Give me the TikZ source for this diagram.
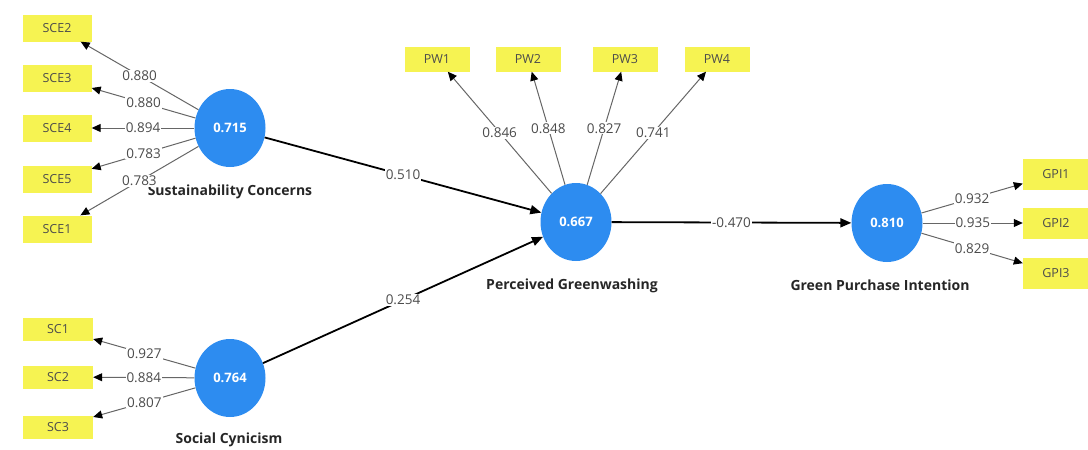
\documentclass[tikz,border=0pt]{standalone}
\usepackage{fontspec}
\setmainfont{Open Sans}
\usetikzlibrary{positioning,arrows.meta,shapes.geometric}
\definecolor{latent}{RGB}{45,140,240}
\definecolor{indic}{RGB}{246,243,82}
\definecolor{loadtxt}{RGB}{75,75,75}

\begin{document}
\begin{tikzpicture}[x=1pt,y=-1pt,
  lv/.style={ellipse,fill=latent,minimum width=71pt,minimum height=78pt,inner sep=0pt,
    text=white,font=\bfseries\fontsize{13}{15}\selectfont},
  lvname/.style={font=\bfseries\fontsize{14}{16}\selectfont,text=black!85},
  indbox/.style={fill=indic,inner sep=0pt,text=black!70,font=\fontsize{12.5}{14}\selectfont},
  load/.style={draw=black!60,line width=1pt,-{Triangle[length=9pt,width=8pt,color=black]}},
  loadlbl/.style={fill=white,inner sep=1pt,text=loadtxt,font=\fontsize{13.5}{15}\selectfont},
  coef/.style={draw=black,line width=1.8pt,-{Triangle[length=11pt,width=9pt]}}]
\useasboundingbox (0,0) rectangle (1088,450);
% Latent variables
\node[lv] (sce) at (230,128) {0.715};
\node[lv] (sc) at (230,378) {0.764};
\node[lv] (pw) at (576,222) {0.667};
\node[lv] (gpi) at (887,223) {0.810};
\node[lvname] (scename) at (230,192) {Sustainability Concerns};
\node[lvname] (scname) at (229,440) {Social Cynicism};
\node[lvname] (pwname) at (572,286) {Perceived Greenwashing};
\node[lvname] (gpiname) at (880,285) {Green Purchase Intention};
% Indicators
\node[indbox,minimum width=69pt,minimum height=27pt] (sce2) at (57,28) {SCE2};
\node[indbox,minimum width=69pt,minimum height=27pt] (sce3) at (57,78) {SCE3};
\node[indbox,minimum width=69pt,minimum height=27pt] (sce4) at (57,128) {SCE4};
\node[indbox,minimum width=69pt,minimum height=27pt] (sce5) at (57,179) {SCE5};
\node[indbox,minimum width=69pt,minimum height=27pt] (sce1) at (57,229) {SCE1};
\node[indbox,minimum width=70pt,minimum height=23pt] (sc1) at (58,329) {SC1};
\node[indbox,minimum width=70pt,minimum height=23pt] (sc2) at (58,377) {SC2};
\node[indbox,minimum width=70pt,minimum height=23pt] (sc3) at (58,427) {SC3};
\node[indbox,minimum width=65pt,minimum height=25pt] (pw1) at (437,59) {PW1};
\node[indbox,minimum width=65pt,minimum height=25pt] (pw2) at (528,59) {PW2};
\node[indbox,minimum width=65pt,minimum height=25pt] (pw3) at (625,59) {PW3};
\node[indbox,minimum width=65pt,minimum height=25pt] (pw4) at (717,59) {PW4};
\node[indbox,minimum width=66pt,minimum height=31pt] (gpi1) at (1056,174) {GPI1};
\node[indbox,minimum width=66pt,minimum height=31pt] (gpi2) at (1056,223) {GPI2};
\node[indbox,minimum width=66pt,minimum height=31pt] (gpi3) at (1056,273) {GPI3};
% Outer loadings
\draw[load] (sce) -- node[loadlbl] {0.880} (sce2);
\draw[load] (sce) -- node[loadlbl] {0.880} (sce3);
\draw[load] (sce) -- node[loadlbl] {0.894} (sce4);
\draw[load] (sce) -- node[loadlbl] {0.783} (sce5);
\draw[load] (sce) -- node[loadlbl] {0.783} (sce1);
\draw[load] (sc) -- node[loadlbl] {0.927} (sc1);
\draw[load] (sc) -- node[loadlbl] {0.884} (sc2);
\draw[load] (sc) -- node[loadlbl] {0.807} (sc3);
\draw[load] (pw) -- node[loadlbl] {0.846} (pw1);
\draw[load] (pw) -- node[loadlbl] {0.848} (pw2);
\draw[load] (pw) -- node[loadlbl] {0.827} (pw3);
\draw[load] (pw) -- node[loadlbl] {0.741} (pw4);
\draw[load] (gpi) -- node[loadlbl] {0.932} (gpi1);
\draw[load] (gpi) -- node[loadlbl] {0.935} (gpi2);
\draw[load] (gpi) -- node[loadlbl] {0.829} (gpi3);
% Path coefficients
\draw[coef] (sce) -- node[loadlbl] {0.510} (pw);
\draw[coef] (sc) -- node[loadlbl] {0.254} (pw);
\draw[coef] (pw) -- node[loadlbl] {-0.470} (gpi);
\end{tikzpicture}
\end{document}
